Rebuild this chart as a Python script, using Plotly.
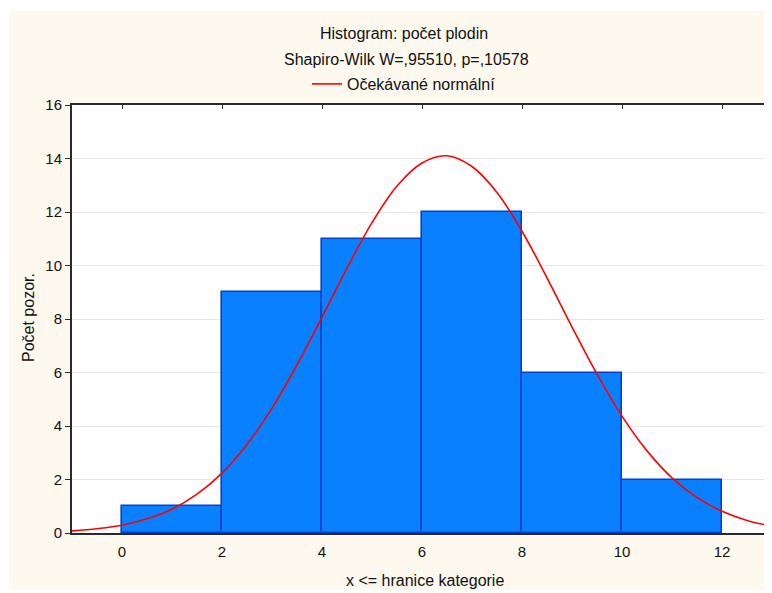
import plotly.graph_objects as go

# Histogram data
bin_left = [0, 2, 4, 6, 8, 10]
bin_right = [2, 4, 6, 8, 10, 12]
counts = [1, 9, 11, 12, 6, 2]

# Expected normal curve
curve_x = [-1, -0.5, 0, 0.5, 1, 1.5, 2, 2.5, 3, 3.5, 4, 4.5, 5, 5.5, 6, 6.5,
           7, 7.5, 8, 8.5, 9, 9.5, 10, 10.5, 11, 11.5, 12, 12.5, 13]
curve_y = [0.08, 0.16, 0.29, 0.53, 0.89, 1.45, 2.24, 3.31, 4.67, 6.28, 8.07, 9.9,
           11.6, 12.97, 13.83, 14.1, 13.7, 12.73, 11.28, 9.54, 7.7, 5.94, 4.37,
           3.07, 2.06, 1.32, 0.81, 0.47, 0.26]

x_ticks = [0, 2, 4, 6, 8, 10, 12]
y_ticks = [0, 2, 4, 6, 8, 10, 12, 14, 16]

title1 = "Histogram: počet plodin"
title2 = "Shapiro-Wilk W=,95510, p=,10578"
legend_name = "Očekávané normální"
x_title = "x &lt;= hranice kategorie"
y_title = "Počet pozor."

FONT = "Liberation Sans, Arial, Helvetica, sans-serif"
CREAM = "#FDF9EF"
TXT = 16

centers = [(a + b) / 2 for a, b in zip(bin_left, bin_right)]
widths = [b - a for a, b in zip(bin_left, bin_right)]

fig = go.Figure()
fig.add_trace(go.Bar(
    x=centers, y=counts, width=widths,
    marker=dict(color="#0880FF", line=dict(color="#0840C8", width=1.6)),
    showlegend=False, hoverinfo="skip",
))
fig.add_trace(go.Scatter(
    x=curve_x, y=curve_y, mode="lines", line=dict(color="#FF0000", width=1.6, shape="spline"),
    name=legend_name, showlegend=True,
))
fig.add_trace(go.Scatter(x=[None], y=[None], xaxis="x2", yaxis="y2",
                         showlegend=False, hoverinfo="skip"))

# page has an 8px body margin; positions below are given in page pixels
OFF = 8
W, H = 772 - OFF, 593 - OFF
L, T = 72 - OFF, 105 - OFF
R = 0
B = H - (533 - OFF)
pw, ph = W - L - R, H - T - B

def px_to_paper_x(px):
    return (px - OFF - L) / pw

def px_to_paper_y(py):
    return (H - B - (py - OFF)) / ph

fig.update_layout(
    width=W, height=H,
    margin=dict(l=L, r=R, t=T, b=B),
    paper_bgcolor="white", plot_bgcolor="white",
    font=dict(family=FONT, size=15, color="#111111"),
    bargap=0,
    showlegend=True,
    legend=dict(x=px_to_paper_x(404), xanchor="center", y=px_to_paper_y(84), yanchor="middle",
                orientation="h", bgcolor="rgba(0,0,0,0)", font=dict(size=TXT),
                itemwidth=30),
    xaxis=dict(range=[-1, 13], tickvals=x_ticks, ticks="outside", ticklen=4,
               tickcolor="rgba(0,0,0,0)", showgrid=False, zeroline=False,
               showline=True, linecolor="#2A2A2A", linewidth=2),
    yaxis=dict(range=[0, 16], tickvals=y_ticks, ticks="outside", ticklen=5,
               tickcolor="#2A2A2A", showgrid=True, gridcolor="#E8E8E8", gridwidth=1,
               zeroline=False, showline=True, linecolor="#2A2A2A", linewidth=2),
    xaxis2=dict(range=[-1, 13], overlaying="x", side="top", tickvals=x_ticks,
                ticks="inside", ticklen=4, tickcolor="#2A2A2A", showticklabels=False,
                showgrid=False, zeroline=False, showline=True, linecolor="#2A2A2A",
                linewidth=2),
    yaxis2=dict(range=[0, 16], overlaying="y", side="right", tickvals=y_ticks,
                ticks="inside", ticklen=4, tickcolor="#2A2A2A", showticklabels=False,
                showgrid=False, zeroline=False, showline=False),
    shapes=[
        dict(type="rect", xref="paper", yref="paper", layer="below",
             x0=px_to_paper_x(9), x1=px_to_paper_x(820),
             y0=px_to_paper_y(590), y1=px_to_paper_y(11),
             fillcolor=CREAM, line=dict(width=0)),
        dict(type="rect", xref="paper", yref="paper", layer="below",
             x0=0, x1=1, y0=0, y1=1, fillcolor="white", line=dict(width=0)),
    ],
    annotations=[
        dict(text=title1, xref="paper", yref="paper", x=px_to_paper_x(404),
             y=px_to_paper_y(34), xanchor="center", yanchor="middle",
             showarrow=False, font=dict(size=TXT)),
        dict(text=title2, xref="paper", yref="paper", x=px_to_paper_x(406),
             y=px_to_paper_y(59), xanchor="center", yanchor="middle",
             showarrow=False, font=dict(size=TXT)),
        dict(text=x_title, xref="paper", yref="paper", x=px_to_paper_x(425),
             y=px_to_paper_y(580), xanchor="center", yanchor="middle",
             showarrow=False, font=dict(size=TXT)),
        dict(text=y_title, xref="paper", yref="paper", x=px_to_paper_x(28),
             y=px_to_paper_y(318), xanchor="center", yanchor="middle",
             textangle=-90, showarrow=False, font=dict(size=TXT)),
    ],
)

fig.write_html("out.html")
